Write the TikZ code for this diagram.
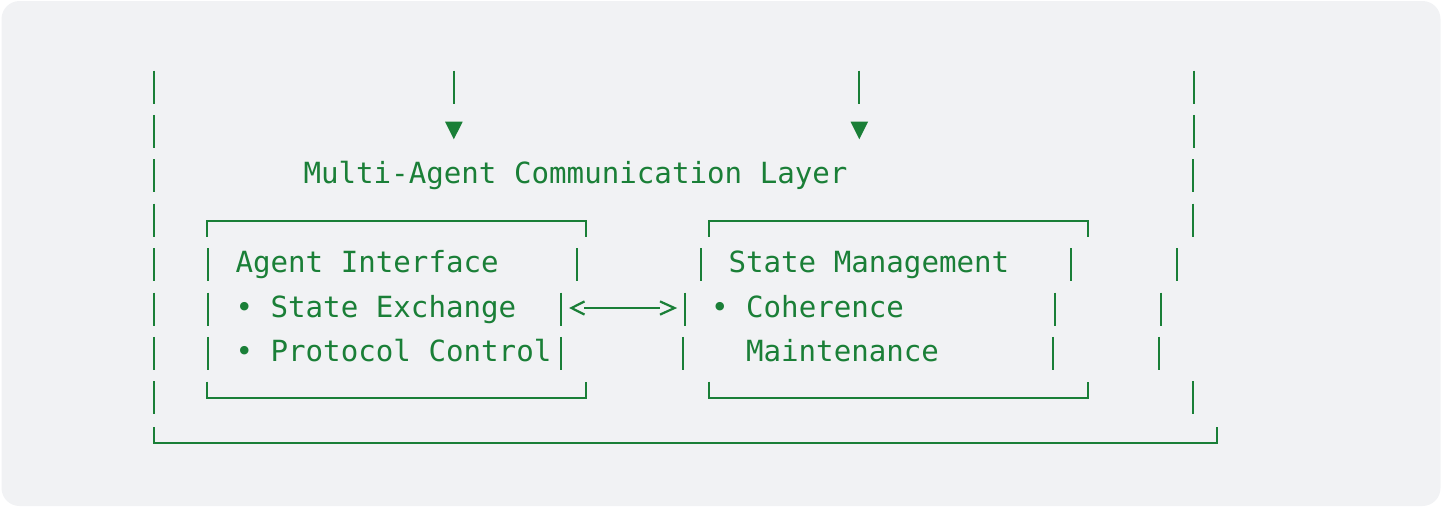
\documentclass[tikz,border=0pt]{standalone}
\usepackage{fontspec}
\newfontfamily\monofnt{DejaVu Sans Mono}
\definecolor{ink}{HTML}{1A7F37}
\definecolor{panel}{HTML}{F1F2F4}
\begin{document}
\begin{tikzpicture}[x=1pt,y=-1pt,
  txt/.style={anchor=base west, inner sep=0pt, outer sep=0pt, text=ink,
              font=\monofnt\fontsize{29.15}{35}\selectfont},
  bar/.style={draw=ink, line width=2pt},
  frame/.style={draw=ink, line width=2pt, line join=miter},
  chev/.style={draw=ink, line width=2.2pt, line join=miter},
  tri/.style={fill=ink}]
\useasboundingbox (0,0) rectangle (1442,507);
\fill[panel, rounded corners=18pt] (1.5,1) rectangle (1440.5,506);

% --- vertical bars, row by row
\foreach \x in {154,454,859,1194} \draw[bar] (\x,70.5) -- (\x,103.5);
\foreach \x in {154,1194} \draw[bar] (\x,114.9) -- (\x,147.9);
\foreach \x in {154,1193} \draw[bar] (\x,159.3) -- (\x,192.3);
\foreach \x in {154,1193} \draw[bar] (\x,203.7) -- (\x,236.7);
\foreach \x in {154,208,577,701,1071,1177} \draw[bar] (\x,248.1) -- (\x,281.1);
\foreach \x in {154,208,561,685,1055,1161} \draw[bar] (\x,292.5) -- (\x,325.5);
\foreach \x in {154,208,561,683,1053,1159} \draw[bar] (\x,336.9) -- (\x,369.9);
\foreach \x in {154,1193} \draw[bar] (\x,381.3) -- (\x,414.3);

% --- down arrow heads
\fill[tri] (445,121.7) -- (462.7,121.7) -- (453.8,139.3) -- cycle;
\fill[tri] (850.5,121.7) -- (868.1,121.7) -- (859.3,139.3) -- cycle;

% --- text
\node[txt] (title) at (303.5,183.8) {Multi-Agent Communication Layer};
\node[txt] (ai) at (235.5,272.6) {Agent Interface};
\node[txt] (se) at (235.5,317) {• State Exchange};
\node[txt] (pc) at (235.5,361.4) {• Protocol Control};
\node[txt] (sm) at (728.5,272.6) {State Management};
\node[txt] (co) at (711,317) {• Coherence};
\node[txt] (mt) at (746,361.4) {Maintenance};

% --- boxes
\draw[frame] (207,236.5) -- (207,221) -- (586,221) -- (586,236.5);
\draw[frame] (207,381.5) -- (207,398) -- (586,398) -- (586,381.5);
\draw[frame] (709,236.5) -- (709,221) -- (1088,221) -- (1088,236.5);
\draw[frame] (709,381.5) -- (709,398) -- (1088,398) -- (1088,381.5);
\draw[frame] (154,427) -- (154,443) -- (1217,443) -- (1217,427);

% --- bidirectional connector between the two boxes
\coordinate (la) at (571.5,308);
\coordinate (ra) at (674.5,308);
\draw[bar] ([xshift=12.8pt]la) -- ([xshift=-14.5pt]ra);
\draw[chev] ([xshift=13pt,yshift=6.6pt]la) -- (la) -- ([xshift=13pt,yshift=-6.6pt]la);
\draw[chev] ([xshift=-14.5pt,yshift=6.6pt]ra) -- (ra) -- ([xshift=-14.5pt,yshift=-6.6pt]ra);
\end{tikzpicture}
\end{document}
